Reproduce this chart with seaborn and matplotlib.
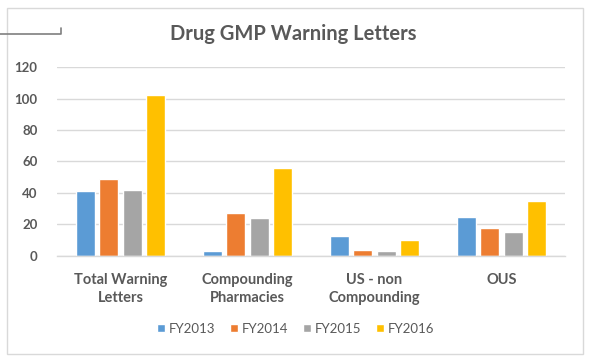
import pandas as pd
import matplotlib.pyplot as plt
import seaborn as sns
from matplotlib.lines import Line2D
from matplotlib.patches import Rectangle

# Datos
categorias = ["Total Warning\nLetters", "Compounding\nPharmacies", "US - non\nCompounding", "OUS"]
anios = ["FY2013", "FY2014", "FY2015", "FY2016"]
fy2013 = [41, 3, 13, 25]
fy2014 = [49, 27, 4, 18]
fy2015 = [42, 24, 3, 15]
fy2016 = [102, 56, 10, 35]
colores = ["#5B9BD5", "#ED7D31", "#A5A5A5", "#FFC000"]

df = pd.DataFrame({
    "categoria": categorias * 4,
    "anio": [a for a in anios for _ in categorias],
    "valor": fy2013 + fy2014 + fy2015 + fy2016,
})

sns.set_style("white")
plt.rcParams["font.family"] = ["Lato", "DejaVu Sans"]
gris_texto = "#595959"

fig = plt.figure(figsize=(5.91, 3.63), dpi=100)
ax = fig.add_axes([0.0964, 0.2948, 0.8596, 0.5206])

sns.barplot(data=df, x="categoria", y="valor", hue="anio", palette=colores,
            width=0.74, gap=0.2, saturation=1, ax=ax, legend=True)

ax.set_ylim(0, 120)
ax.set_yticks(range(0, 121, 20))
ax.yaxis.grid(True, color="#D9D9D9", linewidth=1)
ax.set_axisbelow(True)
for s in ["top", "right", "left"]:
    ax.spines[s].set_visible(False)
ax.spines["bottom"].set_color("#D9D9D9")
ax.spines["bottom"].set_linewidth(1)
ax.tick_params(axis="both", length=0, colors=gris_texto)
ax.tick_params(axis="y", pad=14)
ax.tick_params(axis="x", pad=12)
for lbl in ax.get_yticklabels():
    lbl.set_fontsize(9.5)
    lbl.set_fontweight("bold")
for lbl in ax.get_xticklabels():
    lbl.set_fontsize(10.5)
    lbl.set_fontweight("bold")
    lbl.set_linespacing(1.4)
ax.set_xlabel("")
ax.set_ylabel("")

# Leyenda abajo, horizontal
handles, labels = ax.get_legend_handles_labels()
ax.get_legend().remove()
fig.legend(handles, labels, loc="center", bbox_to_anchor=(0.5, 0.094), ncol=4,
           frameon=False, fontsize=9.5, handlelength=0.6, handleheight=0.6,
           handletextpad=0.3, columnspacing=1.1, labelcolor=gris_texto)

fig.text(0.497, 1 - 34 / 363, "Drug GMP Warning Letters", ha="center", va="center",
         fontsize=14.5, fontweight="bold", color=gris_texto)

# Marco del grafico y detalle de la esquina
fig.add_artist(Rectangle((7 / 591, 1 - 354 / 363), 576 / 591, 346 / 363,
                         transform=fig.transFigure, fill=False,
                         edgecolor="#D9D9D9", linewidth=1))
fig.add_artist(Line2D([0, 61 / 591, 61 / 591], [1 - 34 / 363, 1 - 34 / 363, 1 - 28 / 363],
                      transform=fig.transFigure, color="#7F7F7F", linewidth=1.2))

fig.savefig("out.png", dpi=100)
